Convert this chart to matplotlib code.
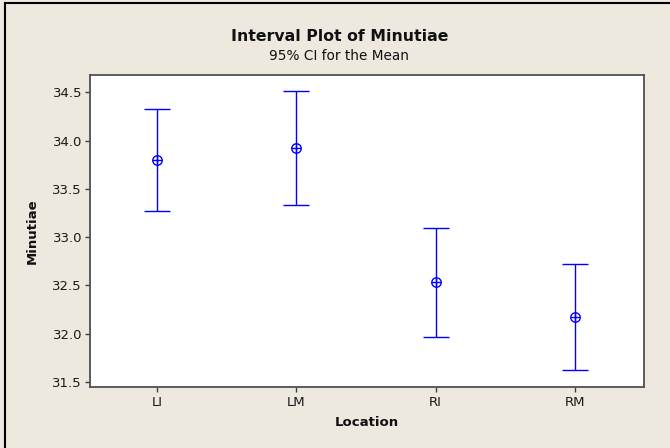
import matplotlib
matplotlib.use("Agg")
import matplotlib.pyplot as plt
from matplotlib.lines import Line2D

locations = ["LI", "LM", "RI", "RM"]
means = [33.80, 33.92, 32.535, 32.175]
upper = [34.33, 34.515, 33.10, 32.725]
lower = [33.27, 33.33, 31.965, 31.625]
yticks = [31.5, 32.0, 32.5, 33.0, 33.5, 34.0, 34.5]

BG = "#EDE9DF"
BLUE = "#0000FF"

fig = plt.figure(figsize=(6.7, 4.48), dpi=100, facecolor=BG)
ax = fig.add_axes([89.7 / 670, 1 - 387 / 448, (644 - 89.7) / 670, (387 - 75) / 448])
ax.set_facecolor("white")

x = list(range(1, len(locations) + 1))
yerr_low = [m - l for m, l in zip(means, lower)]
yerr_up = [u - m for u, m in zip(upper, means)]
ax.errorbar(x, means, yerr=[yerr_low, yerr_up], fmt="none", ecolor=BLUE,
            elinewidth=1.0, capsize=9.5, capthick=1.0)
ax.plot(x, means, linestyle="none", marker="o", markersize=6.8,
        markerfacecolor="none", markeredgecolor=BLUE, markeredgewidth=1.0)
ax.plot(x, means, linestyle="none", marker="+", markersize=6.8,
        markeredgecolor=BLUE, markeredgewidth=1.0)

ax.set_xlim(0.515, 4.497)
ax.set_ylim(31.448, 34.681)
ax.set_xticks(x)
ax.set_xticklabels(locations)
ax.set_yticks(yticks)
ax.set_yticklabels([f"{v:.1f}" for v in yticks])

for s in ax.spines.values():
    s.set_color("#505050")
    s.set_linewidth(1.3)

ax.tick_params(axis="both", direction="out", length=3.5, width=1.0,
               color="#404040", labelsize=9.5, labelcolor="#1a1a1a", pad=2)
ax.tick_params(axis="x", pad=3)

ax.set_xlabel("Location", fontsize=9.5, fontweight="bold", color="#111111")
ax.set_ylabel("Minutiae", fontsize=9.5, fontweight="bold", color="#111111")
ax.xaxis.set_label_coords(0.5, -(422 - 387) / (387 - 75), transform=ax.transAxes)
ax.xaxis.label.set_verticalalignment("center")
ax.yaxis.set_label_coords(-(89.7 - 32.5) / (644 - 89.7), 0.5, transform=ax.transAxes)
ax.yaxis.label.set_verticalalignment("center")

fig.text(340 / 670, 1 - 41.0 / 448, "Interval Plot of Minutiae", ha="center",
         va="baseline", fontsize=11.3, fontweight="bold", color="#111111")
fig.text(339 / 670, 1 - 60 / 448, "95% CI for the Mean", ha="center",
         va="baseline", fontsize=9.8, color="#111111")

# outer frame lines (left and top)
fig.add_artist(Line2D([5 / 670, 5 / 670], [0, 1 - 3 / 448], transform=fig.transFigure,
                      color="black", linewidth=1.5))
fig.add_artist(Line2D([5 / 670, 1], [1 - 3 / 448, 1 - 3 / 448], transform=fig.transFigure,
                      color="black", linewidth=1.5))

fig.savefig("out.png", dpi=100, facecolor=BG)
